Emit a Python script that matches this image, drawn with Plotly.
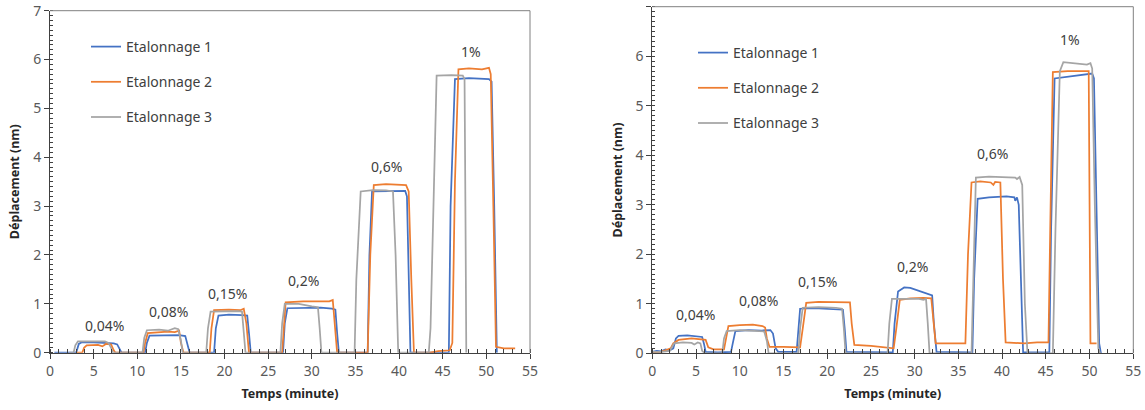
import plotly.graph_objects as go

# ---------------- data ----------------
series_names = ["Etalonnage 1", "Etalonnage 2", "Etalonnage 3"]
series_colors = ["#4472C4", "#ED7D31", "#A5A5A5"]

# Left chart
left_t1 = [0.5, 3.0, 3.3, 3.6, 5.0, 6.5, 7.3, 7.7, 8.0, 8.2,
           10.9, 11.1, 11.4, 13.0, 14.8, 15.5, 15.8, 16.0,
           18.8, 19.0, 19.3, 20.5, 22.0, 22.6, 22.8, 23.0,
           26.7, 26.9, 27.2, 29.0, 31.0, 32.3, 32.7, 32.9, 33.1,
           36.4, 36.6, 36.9, 38.5, 40.7, 40.9, 41.1, 41.3,
           45.7, 45.9, 46.4, 48.0, 50.3, 50.6, 50.9, 51.2]
left_v1 = [0, 0, 0.18, 0.21, 0.21, 0.20, 0.19, 0.17, 0.05, 0,
           0, 0.20, 0.35, 0.36, 0.36, 0.34, 0.15, 0,
           0, 0.50, 0.76, 0.78, 0.77, 0.76, 0.40, 0,
           0, 0.60, 0.91, 0.92, 0.92, 0.90, 0.88, 0.40, 0,
           0, 2.00, 3.30, 3.31, 3.31, 3.20, 1.50, 0,
           0, 3.00, 5.60, 5.62, 5.60, 5.55, 3.00, 0]

left_t2 = [3.0, 3.7, 3.9, 4.2, 5.5, 6.0, 6.4, 7.0, 7.3, 7.5,
           10.7, 10.9, 11.2, 12.5, 13.5, 14.3, 14.8, 15.0, 15.3,
           18.3, 18.5, 18.8, 20.5, 21.8, 22.2, 22.5, 22.8,
           26.6, 26.8, 27.0, 29.0, 31.0, 32.0, 32.4, 32.6, 32.9,
           36.4, 36.7, 37.1, 38.5, 40.8, 41.1, 41.4, 41.7,
           43.5, 44.5, 45.8, 46.1, 46.4, 46.8, 48.0, 49.5, 50.3, 50.5, 50.8, 51.1, 52.0, 53.3]
left_v2 = [0, 0, 0.10, 0.15, 0.16, 0.13, 0.18, 0.17, 0.05, 0,
           0, 0.20, 0.40, 0.41, 0.43, 0.42, 0.45, 0.20, 0,
           0, 0.50, 0.87, 0.88, 0.87, 0.90, 0.60, 0,
           0, 0.60, 1.03, 1.05, 1.04, 1.05, 1.08, 0.70, 0,
           0, 2.00, 3.43, 3.45, 3.43, 3.30, 1.50, 0,
           0, 0.03, 0.05, 0.20, 3.50, 5.80, 5.82, 5.80, 5.83, 5.70, 3.00, 0.12, 0.09, 0.09]

left_t3 = [2.2, 2.7, 2.9, 3.2, 5.0, 6.3, 6.7, 7.0, 7.2,
           10.6, 10.8, 11.1, 12.5, 13.5, 14.3, 14.7, 15.0, 15.2,
           17.9, 18.1, 18.4, 20.0, 21.5, 22.0, 22.2, 22.4,
           26.4, 26.6, 26.9, 28.5, 30.0, 30.7, 30.9, 31.1,
           34.9, 35.1, 35.6, 37.0, 38.5, 39.3, 39.6, 39.9,
           43.4, 43.6, 44.3, 46.0, 47.3, 47.5, 47.6, 47.7]
left_v3 = [0, 0, 0.15, 0.23, 0.23, 0.23, 0.20, 0.10, 0,
           0, 0.30, 0.46, 0.47, 0.45, 0.50, 0.48, 0.25, 0,
           0, 0.50, 0.84, 0.85, 0.85, 0.84, 0.40, 0,
           0, 0.60, 1.00, 1.00, 0.95, 0.93, 0.50, 0,
           0, 1.50, 3.30, 3.33, 3.32, 3.30, 2.00, 0,
           0, 0.50, 5.67, 5.68, 5.67, 5.60, 3.00, 0]

# Right chart
right_t1 = [0, 0.5, 1.0, 1.5, 2.0, 2.4, 2.7, 3.0, 4.0, 5.0, 5.7, 5.9, 6.1, 7.5, 9.0,
            9.2, 9.5, 11.0, 12.5, 13.5, 13.8, 14.1, 14.4, 16.5,
            16.7, 16.9, 18.5, 20.5, 21.8, 22.0, 22.2, 27.5,
            27.7, 28.1, 28.8, 29.5, 30.5, 31.5, 32.0, 32.2, 32.5, 36.6,
            36.8, 37.2, 38.5, 40.5, 41.4, 41.5, 41.7, 41.9, 42.2, 42.4, 45.4,
            45.6, 46.0, 47.5, 49.5, 50.3, 50.5, 50.8, 51.1, 51.3]
right_v1 = [0.03, 0.05, 0.04, 0.08, 0.06, 0.10, 0.30, 0.35, 0.36, 0.34, 0.33, 0.20, 0.03, 0.02, 0.03,
            0.20, 0.45, 0.47, 0.46, 0.47, 0.40, 0.10, 0.03, 0.03,
            0.50, 0.90, 0.91, 0.90, 0.88, 0.50, 0.03, 0.02,
            0.60, 1.25, 1.33, 1.32, 1.26, 1.20, 1.17, 0.60, 0.03, 0.02,
            1.50, 3.12, 3.15, 3.17, 3.15, 3.08, 3.15, 3.00, 1.00, 0.02, 0.02,
            2.50, 5.55, 5.58, 5.63, 5.65, 5.55, 3.00, 0.20, 0]

right_t2 = [0, 1.0, 1.8, 2.1, 2.4, 3.0, 4.5, 5.5, 6.1, 6.4, 7.0, 8.2,
            8.4, 8.7, 10.0, 11.5, 12.6, 12.9, 13.1, 13.4, 15.0, 16.9,
            17.2, 17.6, 19.0, 21.0, 22.6, 22.8, 23.1, 25.0, 26.5, 27.6,
            27.9, 28.3, 29.5, 31.0, 31.9, 32.2, 32.4, 34.0, 35.8,
            36.1, 36.5, 37.5, 38.7, 39.0, 39.2, 39.8, 40.1, 40.4, 42.5, 44.0, 45.3,
            45.5, 45.8, 47.5, 49.9, 50.0, 50.1, 50.8]
right_v2 = [0.02, 0.03, 0.08, 0.10, 0.20, 0.27, 0.30, 0.29, 0.27, 0.12, 0.08, 0.08,
            0.30, 0.55, 0.57, 0.58, 0.55, 0.52, 0.30, 0.13, 0.13, 0.12,
            0.50, 1.02, 1.04, 1.04, 1.03, 0.60, 0.17, 0.15, 0.12, 0.10,
            0.50, 1.08, 1.11, 1.12, 1.11, 0.60, 0.20, 0.20, 0.20,
            2.00, 3.45, 3.47, 3.45, 3.40, 3.46, 3.45, 1.50, 0.22, 0.20, 0.22, 0.22,
            2.50, 5.68, 5.70, 5.70, 3.00, 0.20, 0.20]

right_t3 = [0, 1.0, 2.0, 2.2, 2.5, 3.5, 4.5, 4.8, 5.2, 5.5, 5.7, 6.0, 8.0,
            8.2, 8.5, 10.0, 11.5, 12.8, 13.1, 13.3, 16.7,
            16.9, 17.2, 19.0, 21.0, 21.7, 21.9, 22.1, 26.9,
            27.1, 27.4, 29.0, 30.5, 31.0, 31.3, 31.5, 31.7, 36.5,
            36.7, 37.0, 38.5, 41.0, 41.5, 41.7, 42.0, 42.3, 42.6, 42.9, 45.8,
            46.1, 46.6, 47.0, 48.5, 49.7, 50.1, 50.3, 50.6, 51.0, 51.2]
right_v3 = [0.03, 0.03, 0.05, 0.12, 0.20, 0.22, 0.21, 0.18, 0.22, 0.20, 0.05, 0, 0,
            0.30, 0.45, 0.47, 0.46, 0.44, 0.25, 0, 0,
            0.50, 0.92, 0.93, 0.92, 0.90, 0.50, 0, 0,
            0.60, 1.10, 1.10, 1.10, 1.08, 1.10, 0.60, 0, 0,
            1.50, 3.55, 3.57, 3.56, 3.55, 3.52, 3.56, 3.40, 1.00, 0, 0,
            2.50, 5.70, 5.88, 5.85, 5.83, 5.86, 5.75, 3.00, 0.10, 0]

label_texts = ["0,04%", "0,08%", "0,15%", "0,2%", "0,6%", "1%"]
left_label_t = [6.3, 13.6, 20.3, 29.0, 38.6, 48.2]
left_label_v = [0.55, 0.84, 1.21, 1.47, 3.82, 6.17]
right_label_t = [4.9, 12.2, 18.9, 29.8, 38.9, 47.8]
right_label_v = [0.79, 1.06, 1.45, 1.75, 4.03, 6.33]

x_ticks = [0, 5, 10, 15, 20, 25, 30, 35, 40, 45, 50, 55]
y_ticks = [0, 1, 2, 3, 4, 5, 6, 7]

# ---------------- figure ----------------
W, H = 1145, 410
FONT = "Noto Sans"
TEXT = "#404040"

fig = go.Figure()

left_data = [(left_t1, left_v1), (left_t2, left_v2), (left_t3, left_v3)]
right_data = [(right_t1, right_v1), (right_t2, right_v2), (right_t3, right_v3)]

for i, (t, v) in enumerate(left_data):
    fig.add_trace(go.Scatter(x=t, y=v, mode="lines", name=series_names[i],
                             line=dict(color=series_colors[i], width=1.75),
                             xaxis="x", yaxis="y", legend="legend",
                             legendgroup="L%d" % i))
for i, (t, v) in enumerate(right_data):
    fig.add_trace(go.Scatter(x=t, y=v, mode="lines", name=series_names[i],
                             line=dict(color=series_colors[i], width=1.75),
                             xaxis="x2", yaxis="y2", legend="legend2",
                             legendgroup="R%d" % i))

def xaxis_cfg(domain, anchor):
    return dict(domain=domain, anchor=anchor, range=[0, 55], tickvals=x_ticks,
                ticks="outside", ticklen=5, tickcolor="#404040", automargin=False,
                minor=dict(ticks="inside", dtick=1, ticklen=4, tickcolor="#404040"),
                showline=True, linecolor="#404040", linewidth=1,
                showgrid=False, zeroline=False, fixedrange=True,
                tickfont=dict(family=FONT, size=14, color="#595959"),
                title=dict(text="<b>Temps (minute)</b>", standoff=10,
                           font=dict(family=FONT, size=12.5, color="#262626")))

def yaxis_cfg(domain, anchor):
    return dict(domain=domain, anchor=anchor, range=[0, 7], tickvals=y_ticks,
                ticks="outside", ticklen=5, tickcolor="#404040", automargin=False,
                minor=dict(ticks="inside", dtick=0.1, ticklen=3, tickcolor="#404040"),
                showline=True, linecolor="#404040", linewidth=1,
                showgrid=False, zeroline=False, fixedrange=True,
                tickfont=dict(family=FONT, size=14, color="#595959"),
                title=dict(text="<b>Déplacement (nm)</b>", standoff=10,
                           font=dict(family=FONT, size=12.5, color="#262626")))

LX0, LX1 = 50 / W, 530 / W
RX0, RX1 = 652.3 / W, 1133.3 / W
LY0, LY1 = 1 - 352.7 / H, 1 - 10.7 / H
RY0, RY1 = 1 - 353.3 / H, 1 - 6.7 / H

legend_common = dict(bgcolor="rgba(0,0,0,0)", borderwidth=0, itemwidth=30,
                     tracegroupgap=14, font=dict(family=FONT, size=14, color=TEXT),
                     xanchor="left", yanchor="top")

annotations = []
for txt, t, v in zip(label_texts, left_label_t, left_label_v):
    annotations.append(dict(x=t, y=v, xref="x", yref="y", text=txt, showarrow=False,
                            font=dict(family=FONT, size=14, color=TEXT)))
for txt, t, v in zip(label_texts, right_label_t, right_label_v):
    annotations.append(dict(x=t, y=v, xref="x2", yref="y2", text=txt, showarrow=False,
                            font=dict(family=FONT, size=14, color=TEXT)))

shapes = []
for xr, yr in (("x domain", "y domain"), ("x2 domain", "y2 domain")):
    shapes.append(dict(type="line", xref=xr, yref=yr, x0=0, x1=1, y0=1, y1=1,
                       line=dict(color="#808080", width=1)))
    shapes.append(dict(type="line", xref=xr, yref=yr, x0=1, x1=1, y0=0, y1=1,
                       line=dict(color="#808080", width=1)))

fig.update_layout(
    width=W, height=H,
    margin=dict(l=0, r=0, t=0, b=0, autoexpand=False),
    paper_bgcolor="white", plot_bgcolor="white",
    font=dict(family=FONT, color=TEXT),
    xaxis=xaxis_cfg([LX0, LX1], "y"),
    yaxis=yaxis_cfg([LY0, LY1], "x"),
    xaxis2=xaxis_cfg([RX0, RX1], "y2"),
    yaxis2=yaxis_cfg([RY0, RY1], "x2"),
    legend=dict(x=86 / W, y=1 - 31 / H, **legend_common),
    legend2=dict(x=693 / W, y=1 - 37 / H, **legend_common),
    annotations=annotations,
    shapes=shapes,
    showlegend=True,
    hovermode=False,
)

fig.write_html("out.html",
               config={"displayModeBar": False, "staticPlot": True},
               post_script="document.body.style.margin='0px';document.body.style.padding='0px';")
